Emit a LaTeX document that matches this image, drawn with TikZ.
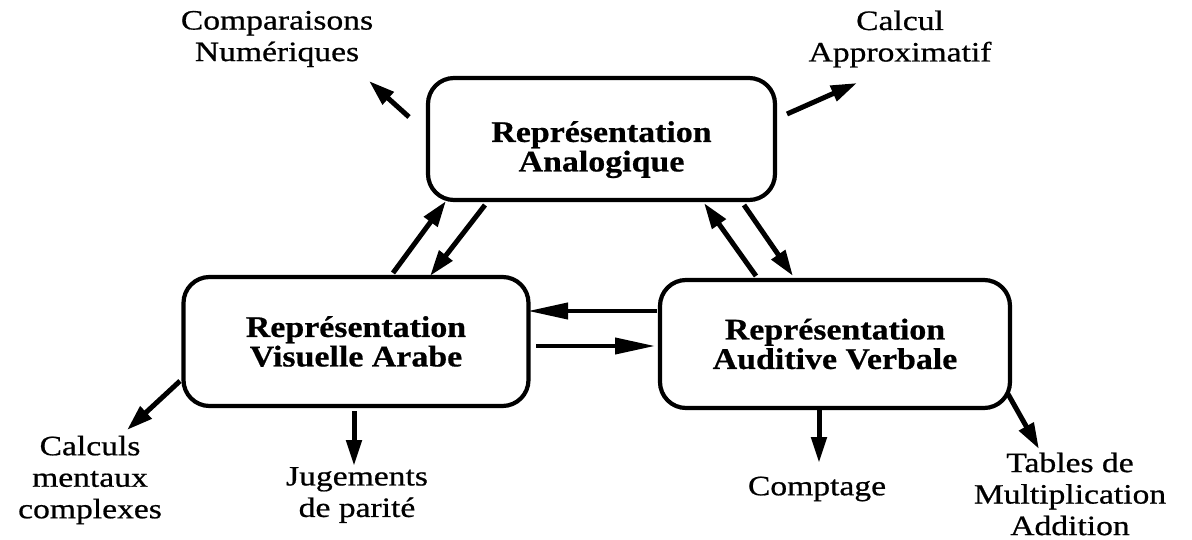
\documentclass[tikz,border=0pt]{standalone}
\usepackage{fontspec}
\setmainfont{Liberation Serif}
\newfontfamily\boxfont[FakeStretch=1.13,FakeBold=0.6]{Liberation Serif}
\newfontfamily\lblfont[FakeStretch=1.2,FakeBold=0.7]{Liberation Serif}
\newcommand\tallstrut{\rule{0pt}{42pt}}
\usetikzlibrary{arrows.meta}
\begin{document}
\begin{tikzpicture}[x=1pt,y=-1pt,
  repbox/.style={draw,line width=4.2pt,rounded corners=26pt,align=center,inner sep=0pt,
    font=\boxfont\bfseries\fontsize{30}{29.5}\selectfont},
  lbl/.style={align=center,inner sep=0pt,font=\lblfont\fontsize{28}{31.5}\selectfont},
  bigarrow/.style={line width=5pt,-{Triangle[length=26pt,width=16pt]}},
  midarrow/.style={line width=4pt,-{Triangle[length=40pt,width=16pt]}},
  downarrow/.style={line width=5pt,-{Triangle[length=26pt,width=15pt]}}]
\useasboundingbox (0,0) rectangle (1192,540);
% boxes
\node[repbox,minimum width=347pt,minimum height=122pt] (top) at (601.5,139) {\tallstrut Représentation\\Analogique};
\node[repbox,minimum width=345pt,minimum height=129pt] (left) at (356,341.5) {Représentation\\Visuelle Arabe};
\node[repbox,minimum width=350pt,minimum height=128pt] (right) at (835,344) {Représentation\\Auditive Verbale};
% labels
\node[lbl] (comp) at (277,39) {Comparaisons\\Numériques};
\node[lbl] (approx) at (900,39) {Calcul\\Approximatif};
\node[lbl] (calc) at (90,480) {Calculs\\mentaux\\complexes};
\node[lbl] (jug) at (357,495) {Jugements\\de parité};
\node[lbl] (cpt) at (817,489) {Comptage};
\node[lbl] (tab) at (1070,494) {Tables de\\Multiplication\\Addition};
% arrow endpoints
\coordinate (c1s) at (409,117); \coordinate (c1e) at (369,81);
\coordinate (c2s) at (787,114); \coordinate (c2e) at (857,83);
\coordinate (lu1) at (393,273); \coordinate (lu2) at (446,201);
\coordinate (ld1) at (485,205); \coordinate (ld2) at (430,276);
\coordinate (ru1) at (756,276); \coordinate (ru2) at (704,203);
\coordinate (rd1) at (744,205); \coordinate (rd2) at (793,276);
\coordinate (h1s) at (657,311); \coordinate (h1e) at (528,311);
\coordinate (h2s) at (536,346); \coordinate (h2e) at (655,346);
\coordinate (b1s) at (180,381); \coordinate (b1e) at (127,430);
\coordinate (b2s) at (354,411); \coordinate (b2e) at (354,466);
\coordinate (b3s) at (819,407); \coordinate (b3e) at (819,463);
\coordinate (b4s) at (1008,394); \coordinate (b4e) at (1039,449);
% arrows
\draw[bigarrow] (c1s) -- (c1e);
\draw[bigarrow] (c2s) -- (c2e);
\draw[bigarrow] (lu1) -- (lu2);
\draw[bigarrow] (ld1) -- (ld2);
\draw[bigarrow] (ru1) -- (ru2);
\draw[bigarrow] (rd1) -- (rd2);
\draw[midarrow] (h1s) -- (h1e);
\draw[midarrow] (h2s) -- (h2e);
\draw[bigarrow] (b1s) -- (b1e);
\draw[downarrow] (b2s) -- (b2e);
\draw[downarrow] (b3s) -- (b3e);
\draw[bigarrow] (b4s) -- (b4e);
\end{tikzpicture}
\end{document}
